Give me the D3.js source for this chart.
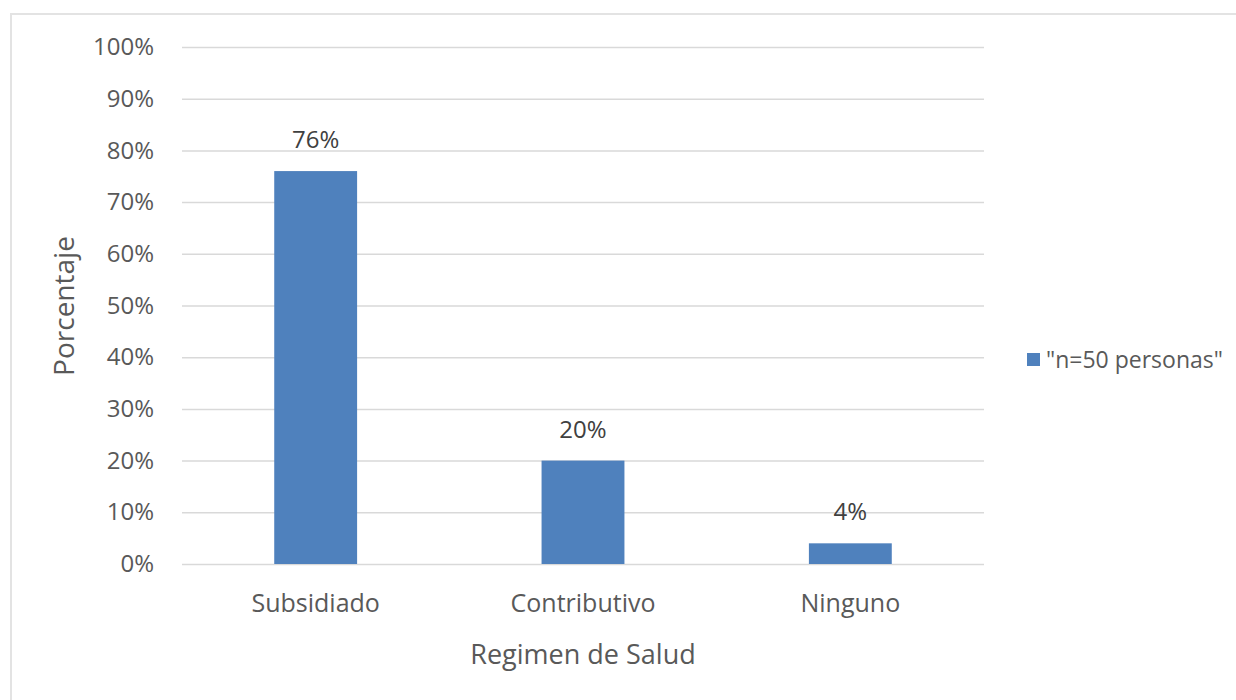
<!DOCTYPE html>
<html><head><meta charset="utf-8">
<script src="https://cdn.jsdelivr.net/npm/d3@7/dist/d3.min.js"></script>
<style>body{margin:0;background:#fff}svg{display:block}text{font-family:"Open Sans",sans-serif}</style>
</head><body><div id="c"></div>
<script>
const categories = ["Subsidiado","Contributivo","Ninguno"];
const values = [0.76,0.20,0.04];
const valueLabels = ["76%","20%","4%"];
const yTicks = [0,0.1,0.2,0.3,0.4,0.5,0.6,0.7,0.8,0.9,1.0];
const seriesName = "\"n=50 personas\"";
const xTitle = "Regimen de Salud";
const yTitle = "Porcentaje";

(function(){
const W=1236,H=700;
const svg=d3.select("#c").append("svg").attr("width",W).attr("height",H);
svg.append("rect").attr("x",11).attr("y",14).attr("width",W).attr("height",H)
  .attr("fill","#fff").attr("stroke","#e3e3e3").attr("stroke-width",2);

const pl=182,pr=984,pt=47,pb=564;
const x=d3.scaleBand().domain(categories).range([pl,pr]).paddingInner(0.69).paddingOuter(0.345);
const y=d3.scaleLinear().domain([0,1]).range([pb,pt]);

const ya=svg.append("g").attr("transform",`translate(${pl},0)`)
  .call(d3.axisLeft(y).tickValues(yTicks).tickFormat(d3.format(".0%")).tickSize(-(pr-pl)).tickPadding(28));
ya.select(".domain").remove();
ya.selectAll(".tick line").attr("stroke","#d9d9d9").attr("stroke-width",1.5);
ya.selectAll(".tick text").attr("fill","#595959").style("font-size","24px");

svg.selectAll("rect.bar").data(values).join("rect").attr("class","bar")
  .attr("x",(d,i)=>x(categories[i])).attr("width",x.bandwidth())
  .attr("y",d=>y(d)).attr("height",d=>y(0)-y(d)).attr("fill","#4f81bd");

svg.selectAll("text.vl").data(values).join("text").attr("class","vl")
  .attr("x",(d,i)=>x(categories[i])+x.bandwidth()/2).attr("y",d=>y(d)-23)
  .attr("text-anchor","middle").attr("fill","#404040").style("font-size","24px")
  .text((d,i)=>valueLabels[i]);

const xa=svg.append("g").attr("transform",`translate(0,${pb})`)
  .call(d3.axisBottom(x).tickSize(0).tickPadding(30));
xa.select(".domain").remove();
xa.selectAll(".tick text").attr("fill","#595959").style("font-size","25px");

svg.append("text").attr("x",(pl+pr)/2).attr("y",664).attr("text-anchor","middle")
  .attr("fill","#595959").style("font-size","27px").text(xTitle);
svg.append("text").attr("transform","translate(74,306) rotate(-90)").attr("text-anchor","middle")
  .attr("fill","#595959").style("font-size","28px").text(yTitle);

svg.append("rect").attr("x",1027).attr("y",353).attr("width",13).attr("height",13).attr("fill","#4f81bd");
svg.append("text").attr("x",1046).attr("y",368).attr("fill","#595959").style("font-size","23px").text(seriesName);
})();
</script></body></html>
